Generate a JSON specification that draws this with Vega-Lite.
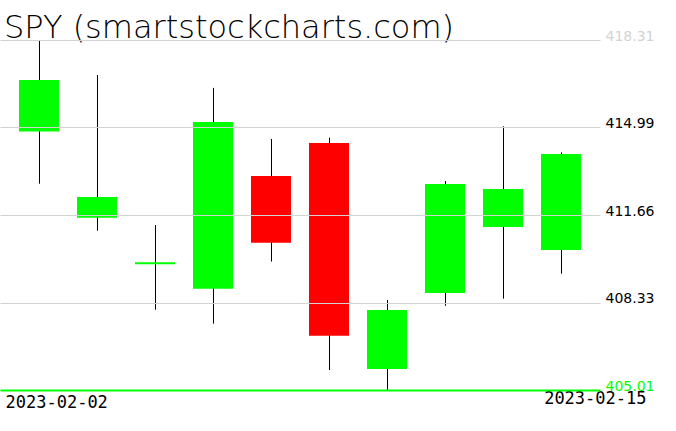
{
  "$schema": "https://vega.github.io/schema/vega-lite/v6.json",
  "width": 600,
  "height": 350,
  "autosize": {"type": "none"},
  "padding": {"left": 0, "top": 40, "right": 76, "bottom": 41},
  "background": "white",
  "config": {"view": {"stroke": null}},
  "title": {
    "text": "SPY (smartstockcharts.com)",
    "anchor": "start",
    "frame": "group",
    "orient": "top",
    "font": "DejaVu Sans",
    "fontWeight": 200,
    "fontSize": 32,
    "color": "black",
    "baseline": "alphabetic",
    "offset": -41,
    "dx": 4
  },
  "data": {
    "values": [
      {"date": "2023-02-02", "open": 414.83, "high": 418.31, "low": 412.85, "close": 416.79},
      {"date": "2023-02-03", "open": 411.56, "high": 416.98, "low": 411.06, "close": 412.34},
      {"date": "2023-02-06", "open": 409.79, "high": 411.28, "low": 408.06, "close": 409.86},
      {"date": "2023-02-07", "open": 408.86, "high": 416.49, "low": 407.53, "close": 415.19},
      {"date": "2023-02-08", "open": 413.14, "high": 414.55, "low": 409.89, "close": 410.61},
      {"date": "2023-02-09", "open": 414.40, "high": 414.60, "low": 405.77, "close": 407.07},
      {"date": "2023-02-10", "open": 405.81, "high": 408.43, "low": 405.01, "close": 408.05},
      {"date": "2023-02-13", "open": 408.70, "high": 412.95, "low": 408.21, "close": 412.84},
      {"date": "2023-02-14", "open": 411.20, "high": 415.03, "low": 408.48, "close": 412.65},
      {"date": "2023-02-15", "open": 410.33, "high": 414.04, "low": 409.43, "close": 413.98}
    ]
  },
  "encoding": {
    "x": {
      "field": "date",
      "type": "ordinal",
      "scale": {"type": "point", "padding": 0.6724},
      "axis": {
        "title": null,
        "domain": false,
        "ticks": false,
        "grid": false,
        "labelAngle": 0,
        "labelOverlap": false,
        "labelExpr": "datum.value == '2023-02-02' || datum.value == '2023-02-15' ? datum.value : ''",
        "labelFont": "DejaVu Sans Mono",
        "labelFontSize": 17,
        "labelColor": "black",
        "labelBaseline": "top",
        "labelAlign": {"condition": {"test": "datum.value == '2023-02-02'", "value": "left"}, "value": "right"},
        "labelOffset": {"condition": {"test": "datum.value == '2023-02-02'", "value": -34}, "value": 85},
        "labelPadding": {"condition": {"test": "datum.value == '2023-02-02'", "value": 4}, "value": 0}
      }
    }
  },
  "layer": [
    {
      "mark": {"type": "rule", "color": "black", "strokeWidth": 1, "xOffset": 0.5},
      "encoding": {
        "y": {
          "field": "low",
          "type": "quantitative",
          "scale": {"domain": [405.01, 418.31], "nice": false, "zero": false},
          "axis": {
            "title": null,
            "orient": "right",
            "values": [405.01, 408.33, 411.66, 414.99, 418.31],
            "format": ".2f",
            "domain": false,
            "ticks": false,
            "grid": true,
            "zindex": 1,
            "gridColor": {"condition": {"test": "datum.value < 405.02", "value": "#00ff00"}, "value": "#d3d3d3"},
            "gridWidth": {"condition": {"test": "datum.value < 405.02", "value": 2}, "value": 1},
            "labelColor": {"condition": [{"test": "datum.value < 405.02", "value": "#00ff00"}, {"test": "datum.value > 418.3", "value": "#d3d3d3"}], "value": "black"},
            "labelFont": "DejaVu Sans",
            "labelFontSize": 14,
            "labelBaseline": "alphabetic",
            "labelPadding": 5,
            "labelOverlap": false
          }
        },
        "y2": {"field": "high"}
      }
    },
    {
      "mark": {"type": "bar", "width": 40},
      "encoding": {
        "y": {"field": "open", "type": "quantitative"},
        "y2": {"field": "close"},
        "color": {
          "condition": {"test": "datum.close > datum.open", "value": "#00ff00"},
          "value": "#ff0000"
        }
      }
    }
  ]
}
